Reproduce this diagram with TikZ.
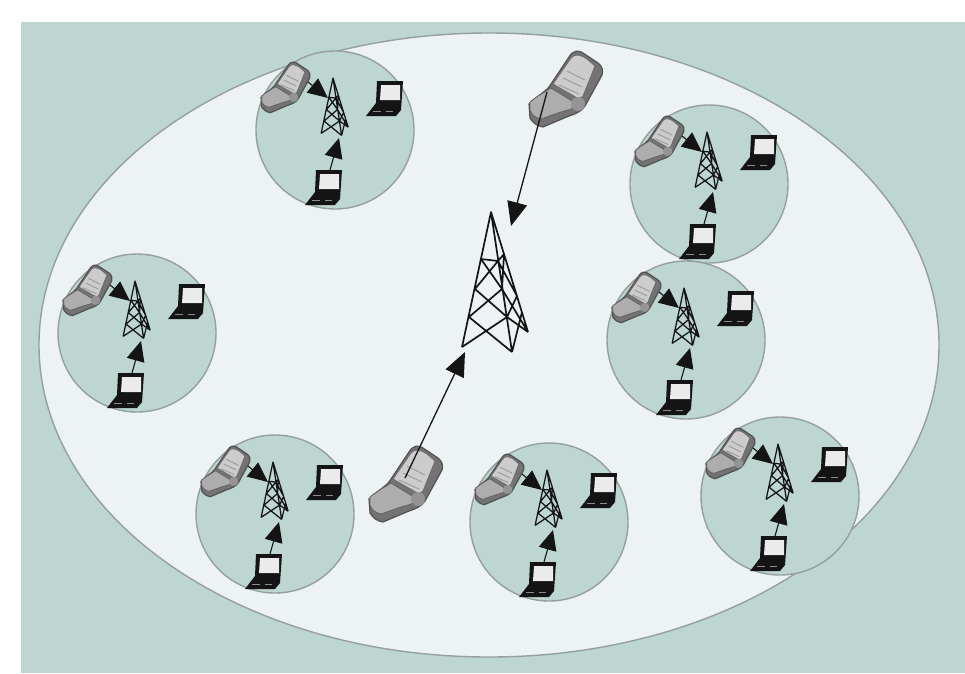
\documentclass[tikz,border=0pt]{standalone}
\usetikzlibrary{arrows.meta}
\definecolor{teal}{HTML}{BDD6D2}
\definecolor{pale}{HTML}{EDF3F4}
\definecolor{rim}{HTML}{959F9D}
\definecolor{ink}{HTML}{141414}
\tikzset{
  x=1pt,y=-1pt,
  zone/.style={fill=teal,draw=rim,line width=1.4pt},
  link/.style={draw=ink,line width=1.1pt,-{Triangle[length=20pt,width=18pt]}},
  biglink/.style={draw=ink,line width=1.3pt,-{Triangle[length=24pt,width=20pt]}},
  phone/.pic={
    \path[fill=black!55,draw=black!68,line width=1.2pt,line join=round]
      (-36,14) .. controls (-28,6) and (-20,2) .. (-16,-3)
      -- (4,-33) .. controls (8,-40) and (14,-40) .. (18,-37)
      -- (33,-27) .. controls (38,-23) and (38,-19) .. (37,-15)
      -- (20,16) .. controls (16,22) and (10,24) .. (4,26)
      -- (-22,37) .. controls (-28,36) and (-32,33) .. (-35,28) -- cycle;
    \path[fill=black!32,draw=black!62,line width=.8pt,line join=round]
      (-35,12) .. controls (-28,6) and (-20,2) .. (-14,-2)
      -- (12,14) .. controls (8,20) and (2,20) .. (-4,22)
      -- (-24,29) .. controls (-30,28) and (-34,24) .. (-35,20) -- cycle;
    \path[fill=black!20,draw=black!58,line width=.8pt,line join=round]
      (6,-32) .. controls (10,-37) and (16,-35) .. (22,-31)
      -- (30,-24) -- (18,6) -- (14,9) -- (-12,-6) -- cycle;
    \draw[black!38,line width=1pt] (2,-19) -- (20,-10) (-2,-12) -- (17,-3) (-6,-5) -- (14,4);
    \fill[black!42] (13,14) circle (7);
  },
  laptop/.pic={
    \fill[black!92] (-7,-17) -- (19,-17) -- (17,12) -- (12,18) -- (-18,18) -- (-8,5) -- cycle;
    \fill[black!8] (-3,-13) -- (16,-13) -- (16,2) -- (-4,2) -- cycle;
    \draw[black!45,line width=.6pt] (-11,13) -- (-3,13) (2,13) -- (9,13);
  },
  tower/.pic={
    \coordinate (A) at (0,0); \coordinate (L) at (-29,135);
    \coordinate (F) at (21,140); \coordinate (B) at (37,120);
    \draw[ink,line width=\pgfkeysvalueof{/tikz/towerline},line join=round]
      (L) -- (A) -- (F) (A) -- (B)
      (-10,47) -- (7,49) -- (13,42)
      (-10,47) -- (11,77) (7,49) -- (-16,77)
      (-16,77) -- (16,105) (11,77) -- (-22,105)
      (-22,105) -- (F) (16,105) -- (L)
      (7,49) -- (26,84) (13,42) -- (11,77)
      (11,77) -- (37,120) (26,84) -- (16,105) (B) -- (16,105) (31,100) -- (21,140);
  },
  towerline/.initial=1pt,
}
\begin{document}
\begin{tikzpicture}
\useasboundingbox (0,0) rectangle (965,673);
\fill[white] (0,0) rectangle (965,673);
\fill[teal] (21,22) rectangle (965,673);
\path[fill=pale,draw=rim,line width=1.4pt] (489,345) ellipse [x radius=450,y radius=312];
\foreach \n/\x/\y in {a/335/130,b/709/184,c/137/333,d/686/340,e/275/514,f/549/522,g/780/496}{
  \node[zone,circle,minimum size=158pt,inner sep=0pt] (\n) at (\x,\y) {};
  \coordinate (\n-pt) at (\x-37,\y-56);
  \coordinate (\n-ph) at (\x-7,\y-32);
  \coordinate (\n-lt) at (\x-5,\y+40);
  \coordinate (\n-lh) at (\x+4,\y+8);
  \draw[link] (\n-pt) -- (\n-ph);
  \draw[link] (\n-lt) -- (\n-lh);
  \pic[scale=.667] at (\x-50,\y-42) {phone};
  \pic[scale=.41,towerline=1.25pt] at (\x-2,\y-52) {tower};
  \pic at (\x-12,\y+57) {laptop};
  \pic at (\x+49,\y-32) {laptop};
}
\coordinate (top) at (547,92);
\coordinate (low) at (405,478);
\coordinate (toph) at (511,226);
\coordinate (lowh) at (465,352);
\pic at (565,90) {phone};
\pic at (405,485) {phone};
\pic[towerline=1.7pt] at (491,212) {tower};
\draw[biglink] (top) -- (toph);
\draw[biglink] (low) -- (lowh);
\end{tikzpicture}
\end{document}
